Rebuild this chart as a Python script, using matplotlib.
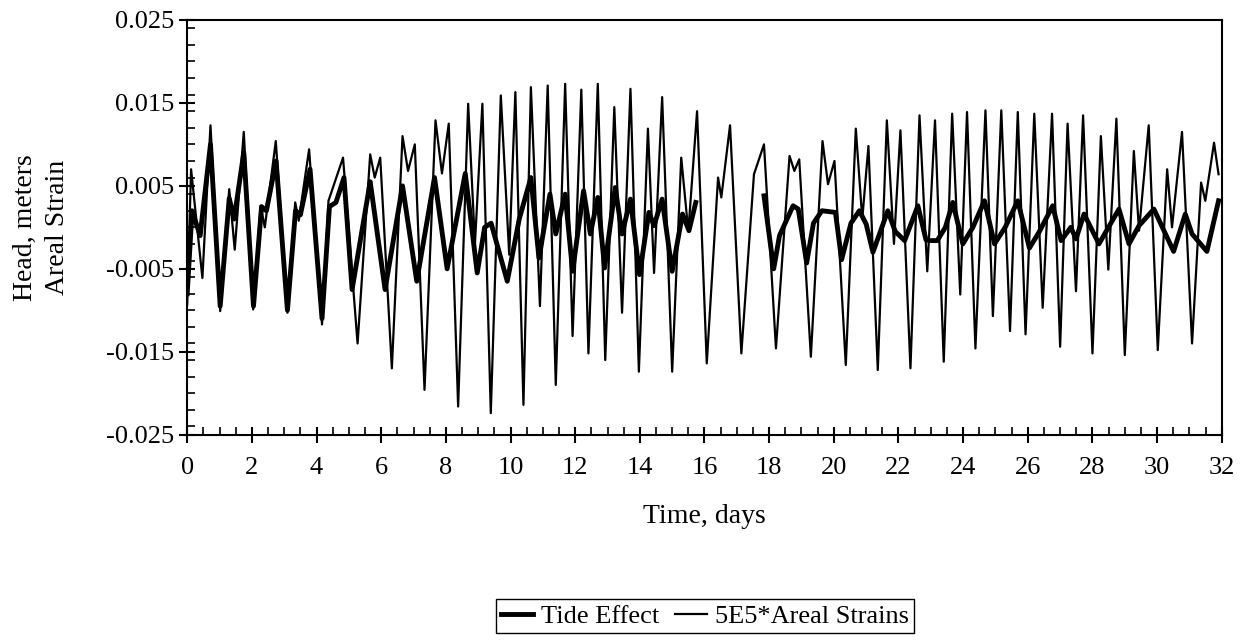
import numpy as np
import matplotlib
matplotlib.use("Agg")
import matplotlib.pyplot as plt
from matplotlib.ticker import MultipleLocator, FixedLocator

# 5E5 * areal strain: peaks and troughs (days, value in 0.001)
strain_days = [0.0, 0.12, 0.47, 0.72, 1.02, 1.3, 1.47, 1.75, 2.04, 2.27, 2.4, 2.74,
               3.1, 3.34, 3.45, 3.77, 4.17, 4.37, 4.82, 5.27, 5.66, 5.8, 5.97, 6.33,
               6.66, 6.83, 7.04, 7.34, 7.68, 7.88, 8.09, 8.38, 8.69, 8.9, 9.13, 9.39,
               9.70, 9.96, 10.15, 10.4, 10.63, 10.91, 11.15, 11.4, 11.69, 11.92, 12.19,
               12.41, 12.70, 12.93, 13.21, 13.45, 13.71, 13.97, 14.25, 14.44, 14.69,
               15.0, 15.28, 15.5, 15.77, 16.07, 16.42, 16.52, 16.79, 17.14, 17.53,
               17.84, 18.21, 18.63, 18.78, 18.93, 19.29, 19.65, 19.82, 20.02, 20.37,
               20.68, 20.88, 21.07, 21.36, 21.64, 21.86, 22.06, 22.37, 22.65, 22.89,
               23.13, 23.4, 23.66, 23.91, 24.12, 24.38, 24.69, 24.92, 25.18, 25.45,
               25.69, 25.93, 26.2, 26.46, 26.75, 27.0, 27.23, 27.49, 27.71, 28.0,
               28.26, 28.49, 28.74, 29.0, 29.28, 29.44, 29.74, 30.02, 30.31, 30.46,
               30.77, 31.08, 31.36, 31.49, 31.76, 31.9]
strain_vals = [-9.3, 7, -6.1, 12.3, -10.1, 4.6, -2.7, 11.5, -9.9, 2.6, 0, 10.4,
               -10.3, 3, 0.8, 9.4, -11.7, 3.2, 8.4, -14, 8.8, 6, 8.4, -17,
               11, 6.8, 10, -19.6, 12.9, 6.5, 12.5, -21.6, 14.9, -2, 14.9, -22.4,
               15.9, -3.3, 16.3, -21.4, 16.9, -9.5, 17.1, -19, 17.3, -13.1, 16.6,
               -15.2, 17.3, -16, 14.5, -10.3, 16.7, -17.4, 11.9, -5.5, 15.7,
               -17.4, 8.4, -0.5, 14, -16.4, 6, 3.6, 12.3, -15.2, 6.4,
               10, -14.6, 8.6, 6.8, 8.2, -15.6, 10.4, 5.2, 8, -16.6,
               11.9, 1, 9.8, -17.2, 12.9, -2, 11.7, -17, 13.5, -5.3,
               12.9, -16.2, 13.7, -8.1, 13.9, -14.6, 14.1, -10.7, 14.1, -12.5,
               13.9, -12.9, 13.7, -9.7, 13.7, -14.4, 12.5, -7.7, 13.5, -15.2,
               11, -5.1, 13.1, -15.4, 9.2, -0.4, 12.3, -14.8, 7, 0,
               11.5, -14, 5.4, 3.2, 10.2, 6.4]

# tide effect head (days, value in 0.001), gap with no data between ~15.8 and ~17.8
tide_days = [0.0, 0.15, 0.4, 0.72, 1.02, 1.3, 1.45, 1.75, 2.05, 2.3, 2.45, 2.75,
             3.1, 3.35, 3.5, 3.8, 4.17, 4.4, 4.6, 4.85, 5.1, 5.66, 6.12, 6.66,
             7.1, 7.65, 8.04, 8.6, 8.97, 9.2, 9.4, 9.9, 10.27, 10.63, 10.88, 11.22,
             11.4, 11.69, 11.92, 12.26, 12.47, 12.7, 12.91, 13.24, 13.45, 13.71,
             13.99, 14.28, 14.44, 14.69, 15.0, 15.32, 15.52, 15.73, 15.8,
             17.84, 18.14, 18.32, 18.74, 18.9, 19.16, 19.37, 19.63, 20.05, 20.24,
             20.53, 20.79, 21.0, 21.21, 21.67, 21.9, 22.19, 22.6, 22.85, 22.96,
             23.2, 23.45, 23.68, 23.99, 24.3, 24.66, 24.97, 25.3, 25.69, 26.05,
             26.36, 26.77, 27.03, 27.33, 27.49, 27.74, 28.2, 28.82, 29.13, 29.44,
             29.9, 30.51, 30.87, 31.08, 31.54, 31.9]
tide_vals = [-8, 2, -1, 10, -9.5, 3.5, 1, 9, -9.5, 2.5, 2, 8,
             -10, 2, 1.5, 7, -11, 2.5, 3, 6, -7.5, 5.5, -7.5, 5,
             -6.5, 6, -5, 6.5, -5.5, 0, 0.5, -6.5, 1, 6, -3.7, 4,
             -0.8, 4, -5.3, 4.4, -0.8, 3.6, -4.9, 4.8, -0.8, 3.4,
             -5.7, 1.8, 0.2, 3.4, -5.3, 1.6, -0.4, 3, np.nan,
             3.8, -5, -1, 2.6, 2.2, -4.3, 0.5, 2, 1.8, -3.9,
             0.5, 2, 0.4, -3, 2, -0.5, -1.6, 2.6, -1.5, -1.6,
             -1.6, 0, 3, -2, 0, 3.2, -2, 0, 3.2, -2.5,
             -0.5, 2.6, -1.6, 0, -1.4, 1.6, -2, 2.2, -2, 0.2,
             2.2, -2.9, 1.6, -0.8, -2.9, 3.2]

y_ticks = [-0.025, -0.015, -0.005, 0.005, 0.015, 0.025]
y_tick_labels = ["-0.025", "-0.015", "-0.005", "0.005", "0.015", "0.025"]

plt.rcParams['font.family'] = ['Liberation Serif', 'DejaVu Serif']

fig = plt.figure(figsize=(12.48, 6.44), dpi=100)
ax = fig.add_axes([0.15, 0.325, 0.829, 0.644])

ax.plot(tide_days, np.array(tide_vals) / 1000, color="black", lw=3.5,
        label="Tide Effect", solid_joinstyle="round")
ax.plot(strain_days, np.array(strain_vals) / 1000, color="black", lw=1.6,
        label="5E5*Areal Strains", solid_joinstyle="round")

ax.set_xlim(0, 32)
ax.set_ylim(-0.025, 0.025)
ax.xaxis.set_major_locator(MultipleLocator(2))
ax.xaxis.set_minor_locator(MultipleLocator(0.5))
ax.yaxis.set_major_locator(FixedLocator(y_ticks))
ax.set_yticklabels(y_tick_labels)
ax.yaxis.set_minor_locator(MultipleLocator(0.002))
ax.tick_params(which="major", direction="inout", length=12, width=1.5,
               labelsize=19)
ax.tick_params(which="minor", direction="in", length=6, width=1.2)
ax.tick_params(axis="x", pad=10)
for s in ax.spines.values():
    s.set_linewidth(1.5)

ax.set_xlabel("Time, days", fontsize=20, labelpad=18)
ax.set_ylabel("Head, meters\nAreal Strain", fontsize=20, labelpad=26,
              linespacing=1.35)

fig.legend(loc="center", bbox_to_anchor=(0.565, 0.043), ncol=2,
           fontsize=19, frameon=True, fancybox=False, edgecolor="black",
           handlelength=1.2, handletextpad=0.3, columnspacing=0.6,
           borderpad=0.2, framealpha=1)

fig.savefig("out.png", dpi=100)
